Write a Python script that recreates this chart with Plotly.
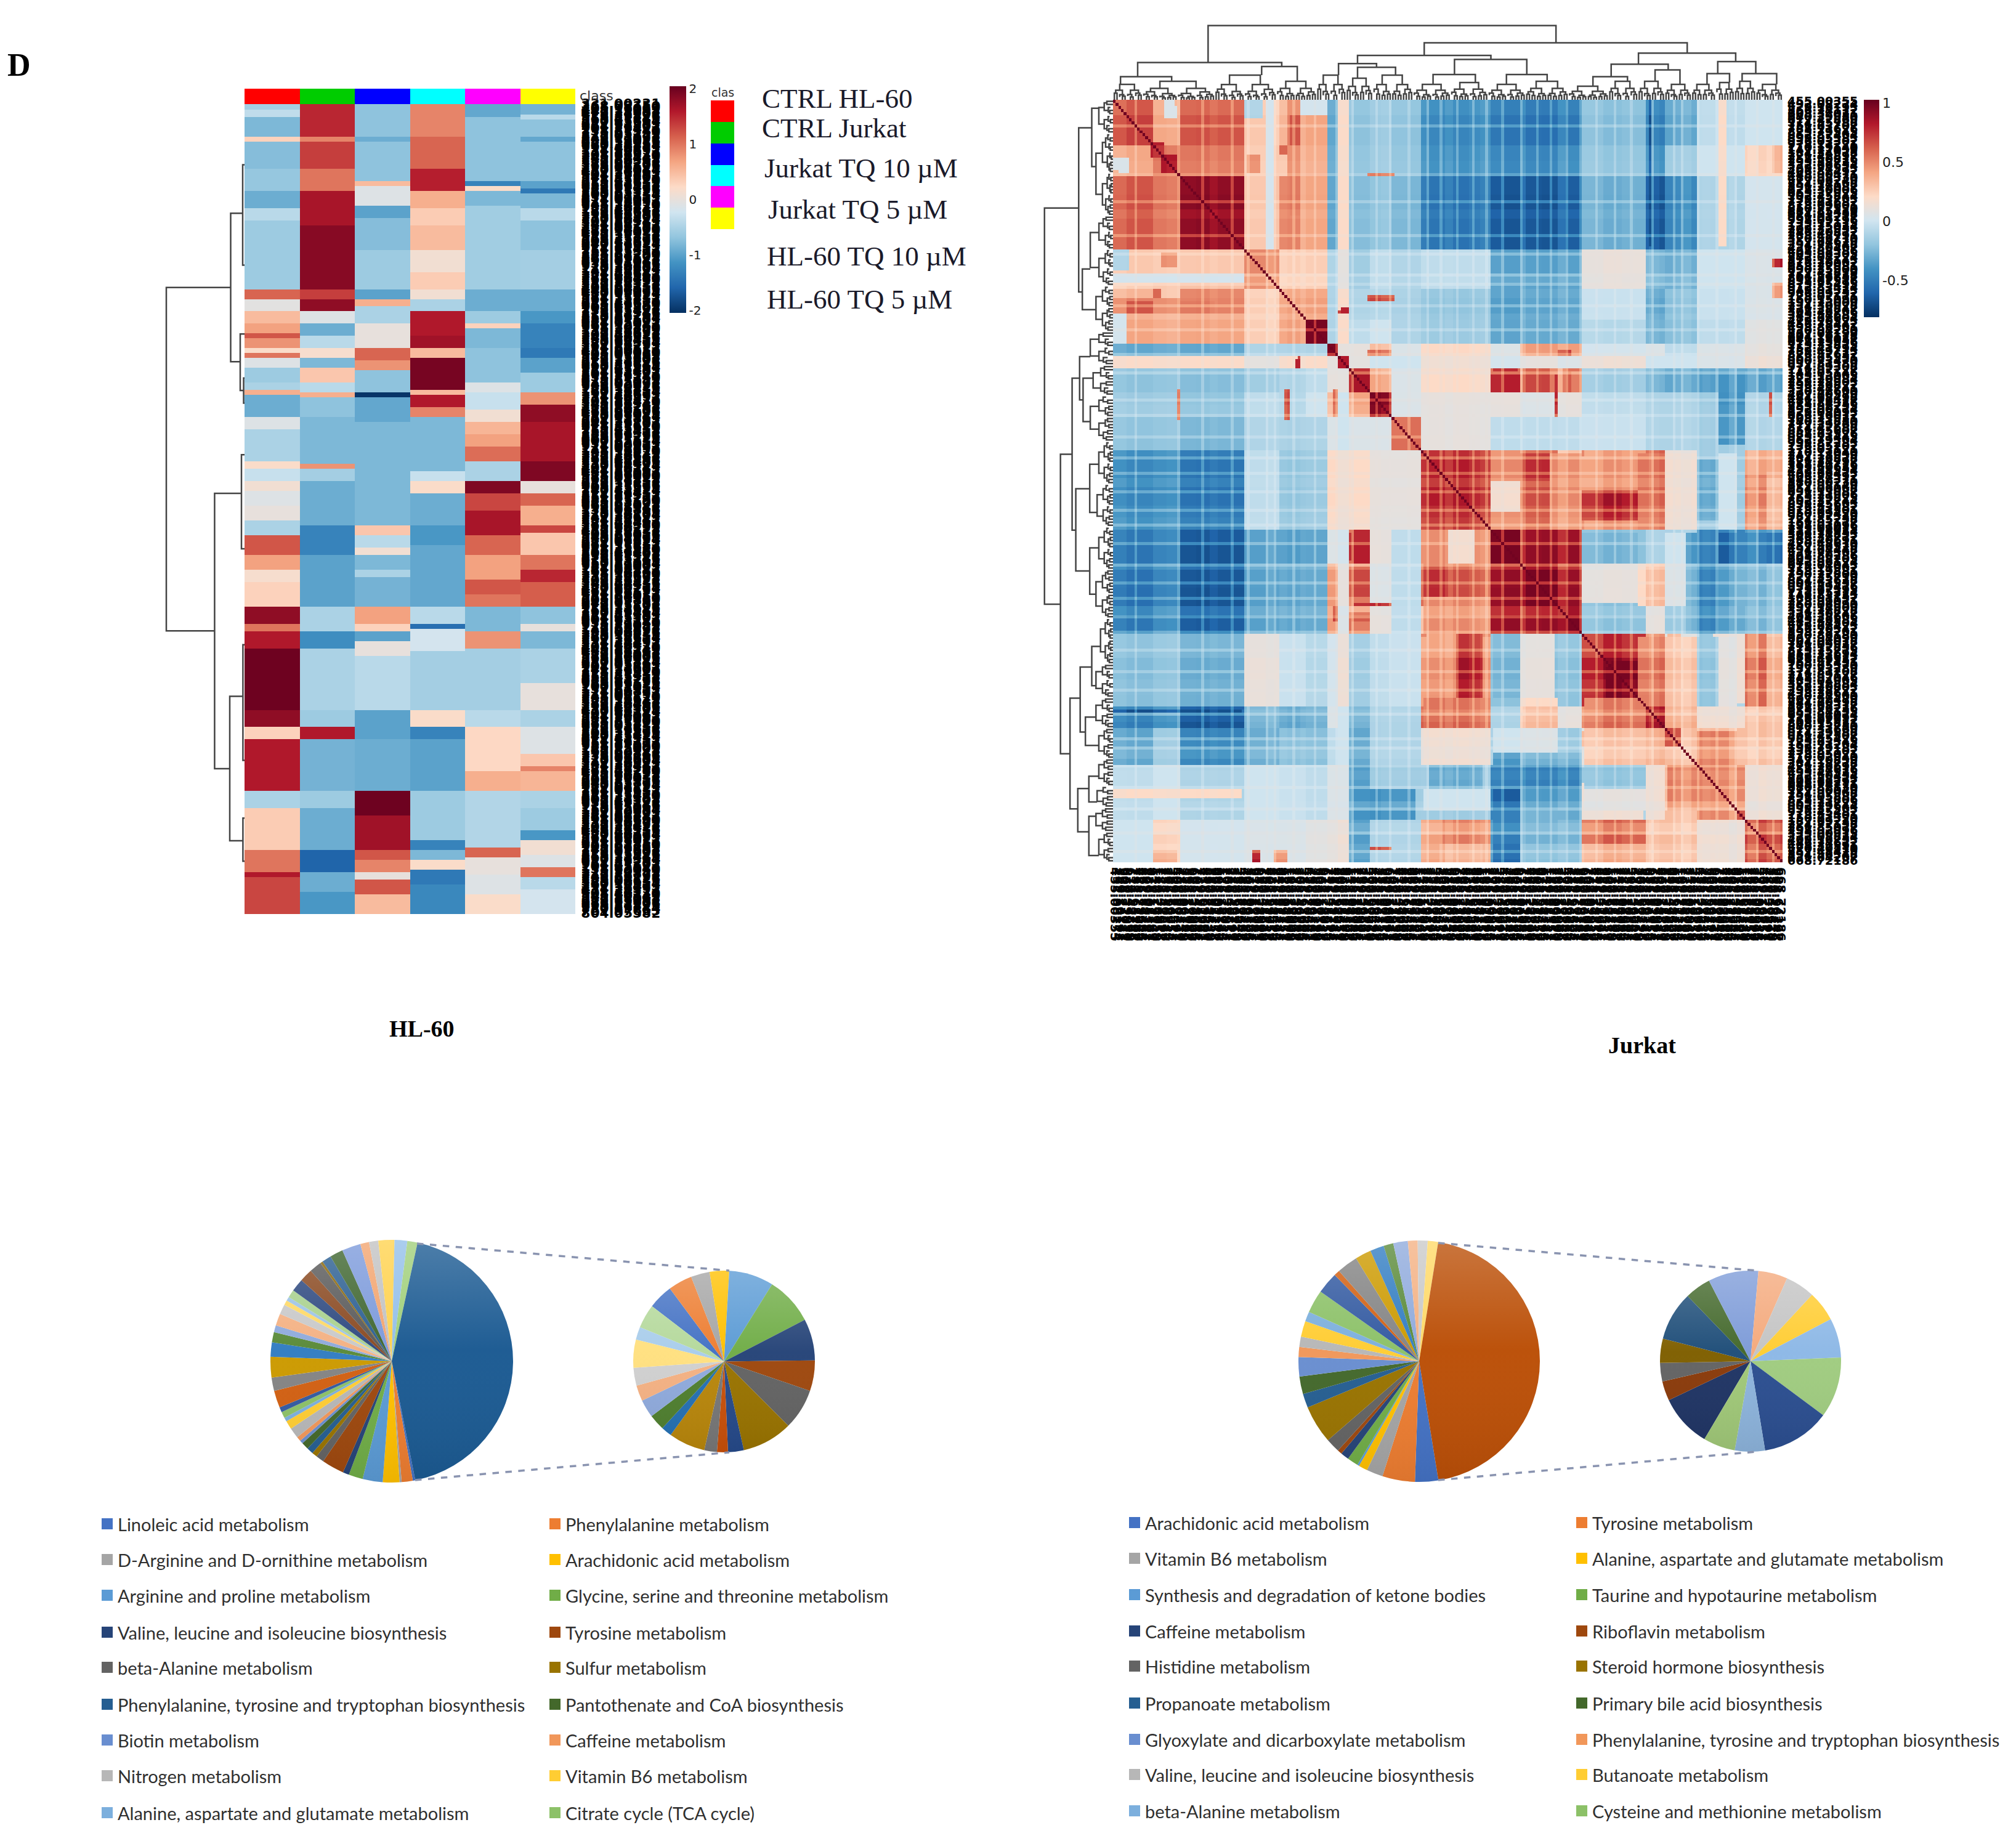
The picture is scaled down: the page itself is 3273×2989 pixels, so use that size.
import base64
import numpy as np
import plotly.graph_objects as go

W, H = 3273, 2989

####################################
# HL-60 heatmap, each column is a list of [last row, value]
n_rows = 330
ctrl_hl60 = [[3,-.55],[6,-.35],[14,-.8],[16,.3],[27,-.75],[36,-.65],[43,-.9],[48,-.4],[76,-.6],[80,1.1],[85,-.05],[90,.5],[94,.7],
             [96,1.2],[100,.8],[102,.2],[104,1.0],[108,-.1],[114,-.6],[117,-.5],[119,.6],[128,-.9],[133,-.1],[146,-.5],[149,.2],
             [154,-.3],[158,.1],[164,-.1],[170,0],[176,-.5],[184,1.2],[190,.7],[195,.15],[205,.3],[212,1.8],[215,1.0],[222,1.6],
             [247,2],[254,1.8],[259,.3],[280,1.6],[287,-.5],[304,.35],[313,1.0],[315,1.6],[330,1.3]]
ctrl_jurkat = [[14,1.5],[16,.9],[27,1.35],[36,1.0],[50,1.65],[76,1.85],[80,1.35],[85,1.8],[90,-.1],[95,-.9],[100,-.4],[104,.15],
               [108,-.8],[114,.4],[118,-.4],[120,.6],[128,-.7],[147,-.8],[149,.8],[154,-.55],[172,-.9],[184,-1.3],[205,-1.0],
               [215,-.5],[222,-1.2],[247,-.5],[254,-.6],[259,1.6],[280,-.85],[287,-.6],[304,-.9],[313,-1.6],[321,-.9],[330,-1.1]]
jurkat_10 = [[14,-.7],[16,-.9],[32,-.7],[34,.5],[42,-.1],[47,-1.0],[60,-.75],[76,-.6],[80,-1.0],[83,.6],[90,-.5],[100,0],[105,1.1],
             [109,.8],[118,-.7],[120,-2],[130,-.95],[172,-.8],[176,.4],[181,-.4],[184,.1],[190,-.8],[193,-.5],[205,-.85],[212,.7],
             [215,.3],[219,-1],[225,0],[247,-.4],[259,-1.0],[280,-.9],[290,2],[304,1.7],[308,1.2],[313,.9],[316,0],[322,1.2],[330,.5]]
jurkat_5 = [[14,.9],[27,1.1],[36,1.55],[43,.6],[50,.35],[60,.5],[69,.1],[76,.35],[80,.1],[85,-.5],[95,1.6],[100,1.7],[104,.5],[117,1.95],
            [119,.5],[124,1.6],[128,.9],[150,-.8],[154,-.3],[159,.2],[172,-.9],[180,-1.1],[205,-.95],[212,-.4],[214,-1.5],[223,-.2],
            [247,-.55],[254,.2],[259,-1.3],[280,-1.0],[300,-.6],[304,-1.3],[308,-.8],[312,.2],[318,-1.4],[330,-1.25]]
hl60_10 = [[6,-.95],[32,-.7],[34,-1.3],[36,.2],[42,-.8],[76,-.57],[85,-.9],[90,-.6],[92,.3],[100,-.8],[114,-.7],[118,-.1],[125,-.3],
           [130,.1],[135,.55],[140,.7],[146,1.05],[154,-.5],[159,1.9],[166,1.3],[176,1.65],[184,1.1],[194,.7],[200,1.2],[205,1.0],
           [215,-.8],[222,.8],[247,-.55],[254,-.4],[272,.25],[280,.6],[303,-.45],[307,1.1],[314,0],[322,-.1],[330,.2]]
hl60_5 = [[5,-.85],[7,-.4],[14,-.7],[16,-.95],[32,-.7],[35,-1.0],[37,-1.4],[43,-.8],[48,-.4],[60,-.7],[76,-.55],[85,-.9],[90,-1.1],
          [100,-1.3],[104,-1.4],[110,-1.0],[118,-.6],[123,.8],[130,1.8],[146,1.65],[154,1.9],[159,0],[164,1.1],[172,.6],[175,1.3],
          [184,.4],[190,1.0],[195,1.5],[205,1.15],[212,-.7],[215,0],[222,-.8],[236,-.5],[247,0],[254,-.5],[265,-.1],[270,.4],[272,.9],
          [280,.55],[287,-.5],[296,-.6],[300,-1.1],[306,.1],[311,-.1],[315,1.0],[320,-.4],[330,-.2]]
hl_columns = [ctrl_hl60, ctrl_jurkat, jurkat_10, jurkat_5, hl60_10, hl60_5]
class_names = ['CTRL HL-60', 'CTRL Jurkat', 'Jurkat TQ 10 µM', 'Jurkat TQ 5 µM', 'HL-60 TQ 10 µM', 'HL-60 TQ 5 µM']
class_colors = ['#ff0000', '#00cc00', '#0000ff', '#00ffff', '#ff00ff', '#ffff00']

# row dendrogram of HL-60: left pos, right pos, left h, right h, top h
hl_links = [[74.8,214.4,22.5,48.6,127],[44.6,105,3,7,22.5],[24.9,65.7,0,0,3],[93.7,116.7,0,1.5,7],[111.6,121.8,0,0,1.5],
            [158.5,270.4,5,24,48.6],[142.8,181,0,0,5],[241,299.7,2.6,2.6,24],[220,267,0,0,2.6],[290.5,308,0,0,2.6]]

####################################
# Jurkat correlation matrix, clusters along the axes and upper triangle of cluster means
jk_sizes = [15,10,24,13,10,8,4,4,8,8,11,26,11,14,9,24,7,12,18,14]
jk_upper = [
    [.65,.4,.6,.25,.35,.4,-.3,.2,-.2,-.15,-.2,-.42,-.48,-.5,-.48,-.22,-.45,-.3,-.05,0],
    [.6,.55,.3,.3,.4,-.3,.2,-.2,-.15,-.2,-.42,-.45,-.45,-.42,-.2,-.4,-.15,0,.25],
    [.85,.3,.5,.4,-.3,.2,-.22,-.18,-.25,-.5,-.6,-.6,-.58,-.28,-.6,-.42,-.1,.02],
    [.5,.25,.25,-.1,.1,-.15,-.05,-.1,-.05,-.33,-.33,-.33,.12,-.25,-.28,0,.05],
    [.4,.4,-.1,.2,-.1,-.08,-.12,-.18,-.33,-.3,-.3,-.02,-.3,-.2,-.02,.05],
    [.95,-.1,.2,-.05,0,-.1,-.15,-.3,-.28,-.28,-.08,-.25,-.2,-.05,.08],
    [.9,.1,.1,.3,.05,.2,.05,.3,.4,.02,.05,-.05,.05,.1],
    [.9,.1,0,0,.15,.02,.1,.05,.15,0,0,.05,.15],
    [.85,.4,.05,.2,.6,.5,.4,-.15,-.25,-.3,-.35,-.35],
    [.95,.05,.1,.1,.05,.1,-.05,-.1,-.1,-.15,-.1],
    [.6,.1,-.05,-.05,-.05,-.02,-.1,-.1,-.15,-.1],
    [.75,.3,.55,.3,.6,.6,.12,-.15,.4],
    [.9,.8,.8,-.2,-.1,-.1,-.45,-.35],
    [.9,.8,.2,.3,.05,-.25,-.1],
    [.9,-.2,.1,-.15,-.3,-.3],
    [.88,.5,.1,-.1,.35],
    [.8,.35,.15,.3],
    [.6,.4,.2],
    [.65,.15],
    [.7],
]
# smaller blocks inside the clusters: column from, to, row from, to, value
jk_patches = [
    [19,24,2,6,.05],[0,5,19,23,.05],[15,19,14,18,.8],[19,24,18,23,.95],[49,57,0,49,.27],[57,60,0,49,.02],[65,70,0,49,.48],[70,80,0,49,.38],
    [0,6,49,56,-.1],[18,24,50,55,.5],[15,18,62,65,.65],[5,15,66,70,.6],[25,38,66,70,.5],[0,5,70,80,.02],[84,88,69,70,.7],
    [95,104,82,84,.55],[152,175,80,84,.4],[68,70,85,88,.8],[142,151,88,96,.8],[153,164,88,96,.65],[168,175,88,96,.6],
    [95,105,24,25,.65],[95,105,64,66,.65],[52,55,246,250,.85],[60,65,246,250,.5],[15,24,246,250,.4],
    [0,48,226,229,.2],[0,48,200,201,-.75],[89,113,226,236,-.4],[96,104,245,246,.7],[90,104,165,166,.7],[82,84,166,171,.65],
    [89,96,141,152,.75],[89,96,159,163,.65],[89,96,171,175,.5],
    [141,152,115,127,.45],[141,152,127,133,.25],[176,199,115,128,.45],[176,199,128,138,.72],[176,199,138,141,.5],
    [218,228,118,138,-.25],[236,250,124,138,.35],
    [125,135,141,152,.15],[116,125,152,163,.7],[125,139,152,163,.6],[116,141,163,175,.45],[116,125,141,152,.45],[135,141,141,152,.45],
    [117,128,175,196,.45],[128,138,175,196,.8],[116,141,196,206,.55],
    [142,152,175,196,-.25],[152,165,175,196,.1],[165,175,175,196,-.2],[186,198,184,196,1.0],[176,199,196,206,.55],
    [236,244,175,198,.6],[244,250,175,198,.35],[207,212,175,198,.35],[219,224,175,198,-.2],[224,236,175,198,.15],
    [116,141,206,218,.15],[142,152,206,214,0],[142,152,214,218,-.35],[152,175,214,218,-.25],[176,199,206,218,.3],
    [118,138,218,226,-.3],[142,175,218,226,-.45],[176,199,218,226,-.2],[142,152,226,233,-.6],[152,175,226,233,-.35],[116,141,226,233,0],
    [176,199,226,233,.1],[122,141,236,244,.5],[142,152,236,244,-.45],[152,175,236,244,-.25],[176,199,236,244,.6],
    [142,152,244,250,-.55],[152,175,244,250,-.2],[176,199,244,250,.4],[206,212,206,218,.6],[212,250,206,218,.3],[207,236,218,233,.5],
]
# how much stronger or paler each stretch of rows and columns looks: count, factor
jk_banding = [[5,-.15],[10,.12],[5,-.1],[4,-.2],[7,.1],[5,.15],[3,-.05],[10,.1],[8,0],[3,-.3],[5,-.1],[5,.1],[2,-.2],[8,.1],
              [4,.1],[4,-.1],[2,-.3],[6,0],[4,.1],[4,-.1],[6,-.1],[5,0],[3,-.1],[6,.1],[3,-.2],[6,.15],[4,-.05],[4,-.2],
              [5,.1],[6,.2],[2,-.3],[6,.15],[6,.2],[3,-.25],[6,.15],[5,-.3],[3,-.3],[7,.1],[5,-.1],[5,-.05],[2,-.3],[2,0],
              [5,.2],[3,0],[4,-.3],[4,.1],[3,-.1],[3,.05],[4,0],[3,-.5],[4,0],[4,-.4],[3,.1],[5,-.2],[5,0]]
# paler single rows and columns that run through the matrix
jk_pale_lines = [8,24,33,44,50,57,60,67,75,83,89,98,103,110,117,122,128,134,139,145,152,158,163,169,174,180,187,193,201,209,212,218,225,232,240,246]

jk_links = [[35,164.9,60.4,92.5,120.6],[8.7,62.5,37.4,54,60.4],[2.3,21.4,25,30,37.4],[55,68.3,40,30,54],
            [115.7,213.9,72,75.7,92.5],[90.8,140.6,58.8,65.5,72],[83.7,97.9,40,52.7,58.8],[90.8,105,35,40,52.7],
            [127,154,41,41,65.5],[119,134.8,25,28,41],[146.4,161.6,25,30,41],[195.7,232,57.8,62,75.7],
            [185.5,206.8,37.4,48.6,57.8],[178.7,191.6,22,30,37.4],[201.9,211.2,30,25,48.6],[225.3,239.5,42.5,42.5,62],
            [221.3,229.7,25,28,42.5],[234.4,247.3,30,25,42.5]]

####################################
# pies, angles, in degrees
hl_main_values = [1.2,5.3,1.0,8.0,9.6,6.8,3.0,10.7,3.9,2.5,3.2,3.4,1.6,2.2,5.0,4.1,1.9,3.0,2.4,8.2,6.4,9.9,6.9,4.9,3.3,5.7,4.8,2.3,1.9,3.8,
                  6.2,6.2,5.9,1.2,4.5,6.3,9.0,4.2,4.4,7.7,6.1,4.9,156.5]
hl_detail_values = [15.9,15.4,12,12.5,28.6,30.8,26.6,19.6,26.1,32.4,10.1,7,8.1,23.4,6.8,10.2,11.5,10.1,11.4,18,8.2,15.3]
jk_main_values = [11.2,15.7,7.9,4.3,.9,5.3,4,2.2,6.8,18.4,6.7,8.5,9.3,4.8,5,7.6,4.7,11.1,10.4,2.8,10.1,7.7,6.7,4.7,7,4.7,4.8,5,161.7]
jk_detail_values = [33.9,12.5,11.9,15.6,31.5,16.7,32.3,18.8,19,19.5,25.4,38.9,44.1,19.4,20.5]

hl_main_colors = ['#4472c4','#ed7d31','#a5a5a5','#ffc000','#5b9bd5','#70ad47','#264478','#9e480e','#636363','#997300','#255e91','#43682b',
                  '#698ed0','#f1975a','#b7b7b7','#ffcd33','#7cafdd','#8cc168','#335aa1','#d26012','#848484','#cc9a00','#327dc2','#5a8a39',
                  '#8faadc','#f4b183','#c9c9c9','#ffd966','#9dc3e6','#a9d18e','#2f4a80','#8a4a22','#5a5a5a','#8a6608','#2c5f92','#3f6630',
                  '#7c9adb','#f2a46f','#c2c2c2','#ffd24d','#93bfe9','#a0cf7a','#1b5a92']
hl_detail_colors = ['#4472c4','#ed7d31','#a5a5a5','#ffc000','#5b9bd5','#70ad47','#264478','#9e480e','#636363','#997300','#264a8a','#c8500a',
                    '#777777','#b8860b','#2470b3','#4f7f2f','#8faadc','#f4b183','#d0d0d0','#ffe080','#a9cdeb','#b5d99c']
jk_main_colors = hl_main_colors[:28] + ['#bb4f07']
jk_detail_colors = ['#1f3464','#8a3a0a','#636363','#7f5f00','#1f4e79','#43682b','#7d9bd8','#f4a97c','#c4c4c4','#ffcd33','#8db8e6','#a0cc80',
                    '#2b4e90','#8db4dc','#a0c878']

hl_legend = ['Linoleic acid metabolism','Phenylalanine metabolism','D-Arginine and D-ornithine metabolism','Arachidonic acid metabolism',
             'Arginine and proline metabolism','Glycine, serine and threonine metabolism','Valine, leucine and isoleucine biosynthesis',
             'Tyrosine metabolism','beta-Alanine metabolism','Sulfur metabolism','Phenylalanine, tyrosine and tryptophan biosynthesis',
             'Pantothenate and CoA biosynthesis','Biotin metabolism','Caffeine metabolism','Nitrogen metabolism','Vitamin B6 metabolism',
             'Alanine, aspartate and glutamate metabolism','Citrate cycle (TCA cycle)']
jk_legend = ['Arachidonic acid metabolism','Tyrosine metabolism','Vitamin B6 metabolism','Alanine, aspartate and glutamate metabolism',
             'Synthesis and degradation of ketone bodies','Taurine and hypotaurine metabolism','Caffeine metabolism','Riboflavin metabolism',
             'Histidine metabolism','Steroid hormone biosynthesis','Propanoate metabolism','Primary bile acid biosynthesis',
             'Glyoxylate and dicarboxylate metabolism','Phenylalanine, tyrosine and tryptophan biosynthesis',
             'Valine, leucine and isoleucine biosynthesis','Butanoate metabolism','beta-Alanine metabolism','Cysteine and methionine metabolism']

rdbu = ['#053061','#2166ac','#4393c3','#92c5de','#d1e5f0','#fddbc7','#f4a582','#d6604d','#b2182b','#67001f']
rdbu_scale = [[i / 9, c] for i, c in enumerate(rdbu)]
LINE = '#444444'

####################################

def dom_x(left, right):
    return [left / W, right / W]

def dom_y(top, bottom):
    return [1 - bottom / H, 1 - top / H]

def expand(bands, n):
    col = np.zeros(n)
    start = 0
    for end, val in bands:
        col[start:end] = val
        start = end
    return col

def bush(lo, hi, h, xs, ys, ratio=.62):
    # lower clades of a dendrogram, too dense to read one by one
    if hi - lo < 2 or h < .8:
        return
    mid = (lo + hi) // 2
    a, b = (lo + mid - 1) / 2, (mid + hi - 1) / 2
    ha = h * ratio if hi - lo > 2 else 0
    hb = h * (1.24 - ratio) if hi - lo > 2 else 0
    xs += [a, a, b, b, None]
    ys += [ha, h, h, hb, None]
    bush(lo, mid, ha, xs, ys, .7)
    bush(mid, hi, hb, xs, ys, .55)

def link_lines(links, n=None):
    xs, ys = [], []
    for a, b, ha, hb, h in links:
        xs += [a, a, b, b, None]
        ys += [ha, h, h, hb, None]
    if n is not None:
        stems = []
        for a, b, ha, hb, h in links:
            for pos, hc in ((a, ha), (b, hb)):
                inner = any(abs(l[4] - hc) < .6 and l[0] <= pos <= l[1] for l in links)
                if not inner:
                    stems.append((pos, hc))
        stems.sort()
        cuts = [0] + [int((stems[i][0] + stems[i + 1][0]) / 2) for i in range(len(stems) - 1)] + [n]
        for i, (pos, hc) in enumerate(stems):
            bush(cuts[i], cuts[i + 1], hc, xs, ys)
    return xs, ys

def row_labels(n, seed):
    return [f'{(seed + i * 37) % 900 + 100}.{(i * 7919 + seed) % 100000:05d}' for i in range(n)]

####################################

hl_z = np.column_stack([expand(c, n_rows) for c in hl_columns])

jk_n = sum(jk_sizes)
jk_edges = np.cumsum([0] + jk_sizes)
jk_z = np.zeros((jk_n, jk_n))
for i, row in enumerate(jk_upper):
    for k, val in enumerate(row):
        j = i + k
        jk_z[jk_edges[i]:jk_edges[i + 1], jk_edges[j]:jk_edges[j + 1]] = val
        jk_z[jk_edges[j]:jk_edges[j + 1], jk_edges[i]:jk_edges[i + 1]] = val
for c0, c1, r0, r1, val in jk_patches:
    jk_z[r0:r1, c0:c1] = val
    jk_z[c0:c1, r0:r1] = val
band = np.repeat([b[1] for b in jk_banding], [b[0] for b in jk_banding])[:jk_n]
band = np.pad(band, (0, jk_n - len(band)))
jk_z = np.clip(jk_z * (1 + band[:, None] * .4 + band[None, :] * .4), -.81, .98)
for i in jk_pale_lines:
    jk_z[i, :] = jk_z[i, :] * .72 + .03
    jk_z[:, i] = jk_z[:, i] * .72 + .03
np.fill_diagonal(jk_z, 1)

fig = go.Figure()

tick_font = dict(family='DejaVu Sans', color='#222222')

# HL-60 heatmap
fig.add_trace(go.Heatmap(z=hl_z, xaxis='x', yaxis='y', colorscale=rdbu_scale, zmin=-2.045, zmax=2.045,
                         colorbar=dict(x=1087 / W, xanchor='left', y=1 - 140 / H, yanchor='top', len=368, lenmode='pixels',
                                       thickness=27, xpad=0, ypad=0, outlinewidth=0, tickvals=[2, 1, 0, -1, -2],
                                       ticktext=['2', '1', '0', '-1', '-2'], tickfont=dict(size=20, **tick_font))))
# sample class bar and its key
class_scale = [[i / 5, c] for i, c in enumerate(class_colors)]
fig.add_trace(go.Heatmap(z=[list(range(6))], xaxis='x2', yaxis='y2', colorscale=class_scale, zmin=0, zmax=5, showscale=False))
fig.add_trace(go.Heatmap(z=[[i] for i in range(6)], xaxis='x4', yaxis='y4', colorscale=class_scale, zmin=0, zmax=5, showscale=False))

xs, ys = link_lines(hl_links)
fig.add_trace(go.Scatter(x=ys, y=xs, xaxis='x3', yaxis='y3', mode='lines', line=dict(color=LINE, width=2.5), showlegend=False))

# Jurkat heatmap
fig.add_trace(go.Heatmap(z=jk_z, xaxis='x5', yaxis='y5', colorscale=rdbu_scale, zmin=-.81, zmax=1.026,
                         colorbar=dict(x=3026 / W, xanchor='left', y=1 - 162 / H, yanchor='top', len=353, lenmode='pixels',
                                       thickness=25, xpad=0, ypad=0, outlinewidth=0, tickvals=[1, .5, 0, -.5],
                                       ticktext=['1', '0.5', '0', '-0.5'], tickfont=dict(size=22, **tick_font))))
xs, ys = link_lines(jk_links, jk_n)
fig.add_trace(go.Scatter(x=xs, y=ys, xaxis='x6', yaxis='y6', mode='lines', line=dict(color=LINE, width=2.5), showlegend=False))
fig.add_trace(go.Scatter(x=ys, y=xs, xaxis='x7', yaxis='y7', mode='lines', line=dict(color=LINE, width=2.5), showlegend=False))

# pies
def add_pie(values, colors, rotation, cx, cy, r, names=None):
    labels = [(names[i] if names and i < len(names) else f'Other {i + 1}') for i in range(len(values))]
    fig.add_trace(go.Pie(values=values, labels=labels, sort=False, direction='clockwise', rotation=rotation,
                         marker=dict(colors=colors, line=dict(width=0)), textinfo='none', showlegend=False,
                         domain=dict(x=dom_x(cx - r, cx + r), y=dom_y(cy - r, cy + r))))

add_pie(hl_main_values, hl_main_colors, 168.8, 636, 2210, 197, hl_legend)
add_pie(hl_detail_values, hl_detail_colors, 307.5, 1175.5, 2210.5, 147.5)
add_pie(jk_main_values, jk_main_colors, 170.8, 2304, 2210, 196, jk_legend)
add_pie(jk_detail_values, jk_detail_colors, 210.6, 2842, 2210, 147)

hidden = dict(visible=False, showgrid=False, zeroline=False, automargin=False)
labels_axis = dict(showgrid=False, zeroline=False, showline=False, ticks='outside', tickcolor='rgba(0,0,0,0)', tickmode='array',
                   automargin=False)

fig.update_layout(
    template='none',
    width=W, height=H, autosize=False, margin=dict(l=0, r=0, t=0, b=0, pad=0),
    paper_bgcolor='white', plot_bgcolor='white', showlegend=False,
    xaxis=dict(domain=dom_x(397, 934), range=[-.5, 5.5], **hidden),
    yaxis=dict(domain=dom_y(166, 1484), range=[n_rows - .5, -.5], anchor='x', side='right',
               tickvals=list(range(n_rows)), ticktext=row_labels(n_rows, 231), ticklen=4,
               tickfont=dict(family='DejaVu Sans', size=21.7, color='black', weight='bold'), **labels_axis),
    xaxis2=dict(domain=dom_x(397, 934), range=[-.5, 5.5], anchor='y2', **hidden),
    yaxis2=dict(domain=dom_y(144, 169), range=[-.5, .5], anchor='x2', **hidden),
    xaxis3=dict(domain=dom_x(266, 397), range=[131, 0], anchor='y3', **hidden),
    yaxis3=dict(domain=dom_y(166, 1484), range=[n_rows - .5, -.5], anchor='x3', **hidden),
    xaxis4=dict(domain=dom_x(1154, 1192), range=[-.5, .5], anchor='y4', **hidden),
    yaxis4=dict(domain=dom_y(163, 372), range=[5.5, -.5], anchor='x4', **hidden),
    xaxis5=dict(domain=dom_x(1807, 2894), range=[-.5, jk_n - .5], anchor='y5', side='bottom',
                tickvals=list(range(jk_n)), ticktext=row_labels(jk_n, 355), tickangle=90, ticklen=3,
                tickfont=dict(family='DejaVu Sans', size=20.2, color='black', weight='bold'), **labels_axis),
    yaxis5=dict(domain=dom_y(162, 1400), range=[jk_n - .5, -.5], anchor='x5', side='right',
                tickvals=list(range(jk_n)), ticktext=row_labels(jk_n, 355), ticklen=3,
                tickfont=dict(family='DejaVu Sans', size=19.3, color='black', weight='bold'), **labels_axis),
    xaxis6=dict(domain=dom_x(1807, 2894), range=[-.5, jk_n - .5], anchor='y6', **hidden),
    yaxis6=dict(domain=dom_y(20, 162), range=[0, 142], anchor='x6', **hidden),
    xaxis7=dict(domain=dom_x(1676, 1807), range=[142, 0], anchor='y7', **hidden),
    yaxis7=dict(domain=dom_y(162, 1400), range=[jk_n - .5, -.5], anchor='x7', **hidden),
)

####################################
# text, legends and the pie decorations

def note(x, y, text, size, family='Liberation Serif', color='black', bold=False, xanchor='left'):
    fig.add_annotation(x=x / W, y=1 - y / H, xref='paper', yref='paper', text=f'<b>{text}</b>' if bold else text, showarrow=False,
                       xanchor=xanchor, yanchor='middle', font=dict(family=family, size=size, color=color),
                       borderpad=0, borderwidth=0)

note(12, 105, 'D', 52, bold=True)
note(685, 1670, 'HL-60', 38, bold=True, xanchor='center')
note(2666, 1697, 'Jurkat', 38, bold=True, xanchor='center')
note(941, 155, 'class', 22, family='DejaVu Sans', color='#333333')
note(1155, 150, 'clas', 19, family='DejaVu Sans', color='#333333')

class_y = [160, 208, 273, 340, 416, 486]
class_x = [1237, 1237, 1241, 1247, 1245, 1245]
for name, x, y in zip(class_names, class_x, class_y):
    note(x, y, name, 45, color='#1a1a2a')

def add_legend(names, colors, col_x, rows_y):
    for i, name in enumerate(names):
        x = col_x[i % 2]
        y = rows_y[i // 2]
        fig.add_shape(type='rect', xref='paper', yref='paper', x0=x / W, x1=(x + 18) / W, y0=1 - (y - 9) / H, y1=1 - (y + 9) / H,
                      fillcolor=colors[i], line=dict(width=0))
        note(x + 26, y, name, 29, family='Lato', color='#2f2f2f')

add_legend(hl_legend, hl_main_colors, [165, 892], [2474, 2532, 2590, 2650, 2707, 2767, 2825, 2883, 2943])
add_legend(jk_legend, jk_main_colors, [1833, 2559], [2472, 2530, 2589, 2648, 2705, 2765, 2824, 2881, 2940])

for x0, y0, x1, y1 in [(677, 2019, 1184, 2063), (674, 2403, 1184, 2358), (2335, 2018, 2852, 2063), (2335, 2403, 2850, 2357)]:
    fig.add_shape(type='line', xref='paper', yref='paper', x0=x0 / W, x1=x1 / W, y0=1 - y0 / H, y1=1 - y1 / H,
                  line=dict(color='#8a94b0', width=3.5, dash='dash'))

sheen = ('<svg xmlns="http://www.w3.org/2000/svg" viewBox="0 0 100 100" preserveAspectRatio="none"><defs>'
         '<linearGradient id="g" x1="0" y1="0" x2="0" y2="1"><stop offset="0" stop-color="white" stop-opacity=".22"/>'
         '<stop offset=".45" stop-color="white" stop-opacity=".02"/><stop offset="1" stop-color="black" stop-opacity=".07"/>'
         '</linearGradient></defs><circle cx="50" cy="50" r="50" fill="url(#g)"/></svg>')
sheen_src = 'data:image/svg+xml;base64,' + base64.b64encode(sheen.encode()).decode()
for cx, cy, r in [(636, 2210, 197), (1175.5, 2210.5, 147.5), (2304, 2210, 196), (2842, 2210, 147)]:
    fig.add_layout_image(source=sheen_src, xref='paper', yref='paper', x=(cx - r) / W, y=1 - (cy - r) / H, sizex=2 * r / W, sizey=2 * r / H,
                         xanchor='left', yanchor='top', sizing='stretch', layer='above')

fig.write_html('out.html', config={'displayModeBar': False}, post_script="document.body.style.margin='0';")
